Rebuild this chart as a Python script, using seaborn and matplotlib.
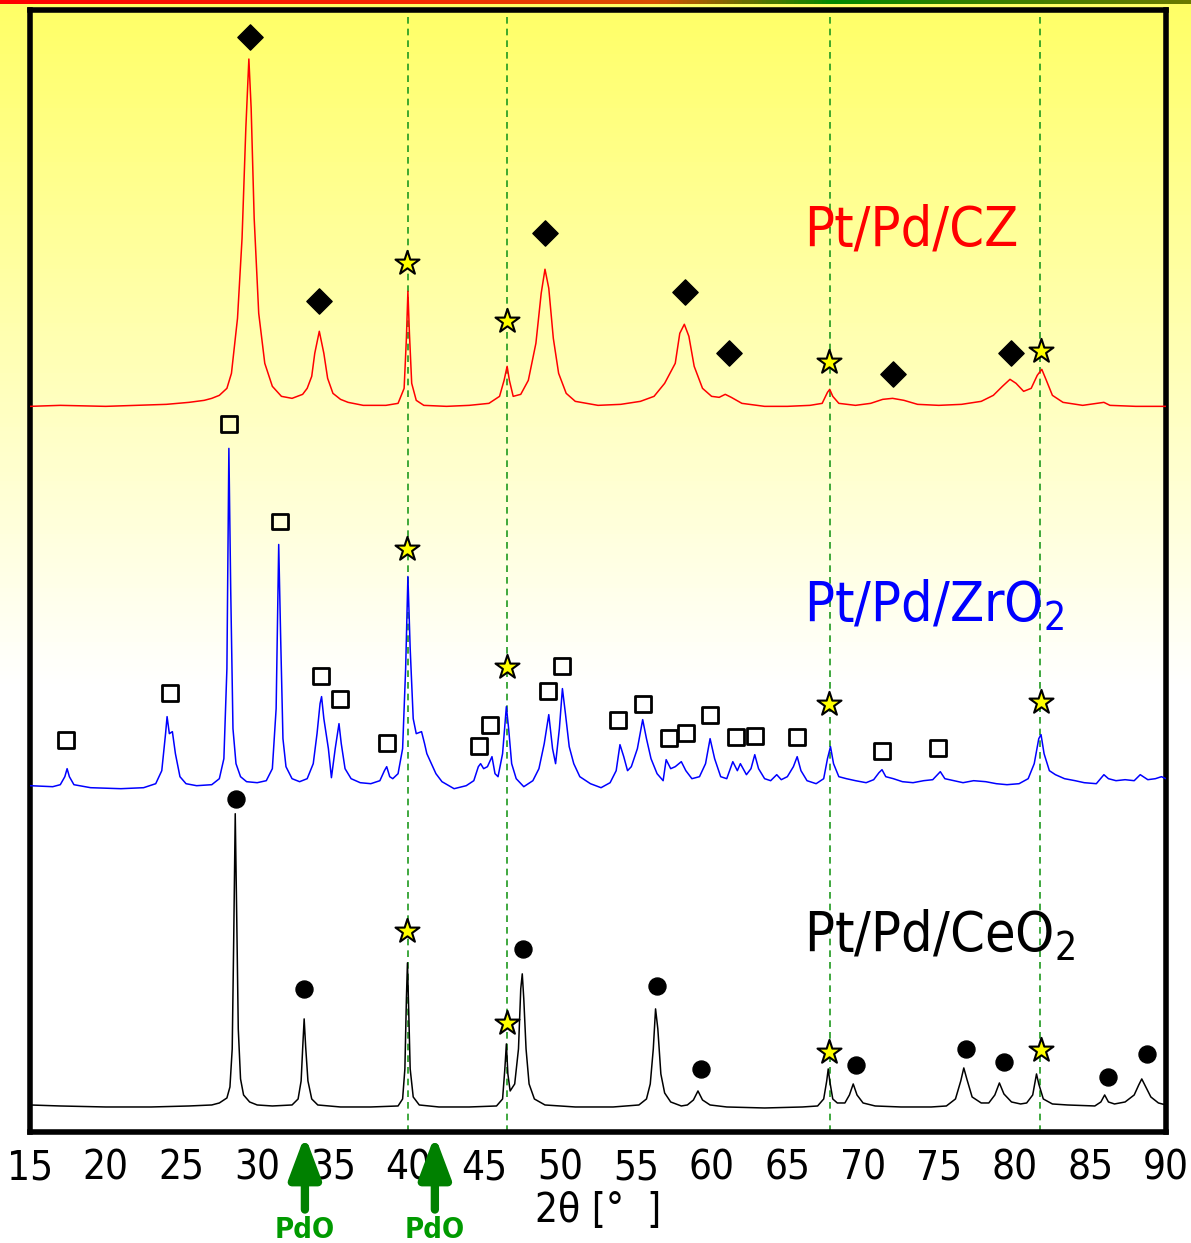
import numpy as np
import pandas as pd
import seaborn as sns
import matplotlib.pyplot as plt
from matplotlib import font_manager
from matplotlib.colors import LinearSegmentedColormap

# ---------------- data ----------------
# intensities are heights above each pattern's baseline (arbitrary units)

ceo2_2theta = [15.0, 17.0, 20.0, 23.0, 25.5, 27.0, 27.5, 28.0, 28.2, 28.35, 28.45, 28.55, 28.65, 28.75, 28.9,
               29.1, 29.5, 30.0, 31.0, 32.3, 32.7, 32.9, 33.0, 33.1, 33.2, 33.35, 33.6, 34.0, 35.5, 37.5,
               39.3, 39.6, 39.75, 39.85, 39.92, 40.0, 40.1, 40.3, 40.7, 42.0, 44.0, 45.8, 46.2, 46.35, 46.45,
               46.55, 46.7, 47.0, 47.25, 47.4, 47.5, 47.6, 47.75, 47.95, 48.3, 49.0, 51.0, 53.5, 55.2, 55.7,
               55.95, 56.15, 56.3, 56.45, 56.65, 56.9, 57.3, 58.0, 58.4, 58.8, 59.1, 59.4, 59.9, 61.0, 63.5,
               66.0, 67.0, 67.4, 67.6, 67.7, 67.8, 68.0, 68.3, 68.8, 69.1, 69.35, 69.6, 70.0, 70.8, 72.5,
               74.5, 75.5, 76.1, 76.45, 76.65, 76.85, 77.2, 77.8, 78.3, 78.7, 79.0, 79.3, 79.8, 80.4, 80.8,
               81.2, 81.45, 81.6, 81.9, 82.5, 83.5, 85.3, 85.7, 85.95, 86.2, 86.6, 87.3, 87.9, 88.2, 88.4,
               88.6, 89.0, 89.5, 90.0]
ceo2_counts = [4, 3, 2, 2, 3, 4, 6, 11, 22, 60, 170, 295, 190, 80, 30,
               14, 7, 4, 3, 4, 10, 28, 60, 90, 62, 28, 10, 4, 2, 2,
               3, 10, 40, 110, 146, 100, 40, 12, 4, 2, 2, 3, 10, 40, 65,
               35, 18, 25, 60, 120, 135, 110, 60, 25, 10, 4, 2, 2, 4, 10,
               25, 60, 100, 80, 35, 16, 7, 3, 4, 9, 18, 9, 4, 2, 1,
               2, 3, 10, 28, 40, 28, 10, 6, 6, 14, 25, 14, 6, 3, 2,
               2, 3, 10, 28, 41, 30, 12, 6, 6, 14, 26, 15, 7, 5, 6,
               14, 35, 25, 10, 5, 4, 3, 7, 14, 7, 5, 7, 14, 24, 30,
               24, 12, 6, 4]

zro2_2theta = [15.0, 16.5, 17.0, 17.3, 17.45, 17.6, 17.9, 19.0, 21.0, 22.5, 23.3, 23.7, 23.95, 24.05, 24.2,
               24.4, 24.6, 24.9, 25.3, 26.0, 27.0, 27.5, 27.8, 28.0, 28.13, 28.25, 28.4, 28.6, 28.9, 29.3,
               30.0, 30.6, 31.0, 31.25, 31.42, 31.55, 31.7, 31.9, 32.3, 32.8, 33.3, 33.7, 33.95, 34.15, 34.25,
               34.4, 34.7, 34.9, 35.15, 35.4, 35.55, 35.8, 36.2, 36.8, 37.5, 38.1, 38.4, 38.55, 38.75, 38.95,
               39.3, 39.6, 39.8, 39.95, 40.1, 40.3, 40.5, 40.85, 41.05, 41.2, 41.5, 41.8, 42.2, 43.0, 43.8,
               44.3, 44.6, 44.75, 44.95, 45.2, 45.5, 45.7, 45.9, 46.2, 46.45, 46.6, 46.8, 47.1, 47.6, 48.2,
               48.6, 48.95, 49.25, 49.5, 49.7, 49.95, 50.15, 50.35, 50.6, 50.9, 51.3, 52.0, 52.7, 53.3, 53.7,
               53.95, 54.2, 54.45, 54.7, 55.1, 55.45, 55.7, 56.0, 56.4, 56.8, 57.0, 57.3, 57.6, 58.0, 58.3,
               58.7, 59.2, 59.6, 59.9, 60.2, 60.6, 61.0, 61.4, 61.7, 61.9, 62.3, 62.6, 62.85, 63.1, 63.5,
               63.9, 64.3, 64.6, 65.0, 65.4, 65.65, 65.9, 66.3, 66.9, 67.4, 67.65, 67.85, 68.05, 68.4, 68.9,
               69.5, 70.2, 70.7, 71.05, 71.25, 71.5, 72.0, 72.6, 73.3, 74.0, 74.6, 75.1, 75.4, 76.0, 76.6,
               77.3, 78.1, 78.8, 79.5, 80.3, 80.9, 81.3, 81.6, 81.75, 81.95, 82.3, 82.7, 83.3, 84.0, 84.6,
               85.4, 85.9, 86.2, 86.7, 87.3, 87.9, 88.3, 88.8, 89.3, 89.7, 90.0]
zro2_counts = [3, 2, 4, 12, 20, 12, 4, 1, 0, 1, 5, 18, 55, 72, 55,
               57, 35, 12, 5, 3, 4, 10, 30, 120, 340, 200, 60, 25, 12, 7,
               6, 8, 20, 80, 244, 150, 50, 22, 10, 7, 10, 25, 55, 85, 92,
               70, 40, 11, 40, 65, 45, 20, 10, 6, 5, 8, 18, 22, 12, 10,
               15, 40, 120, 212, 140, 70, 55, 57, 45, 35, 25, 15, 7, 0, 3,
               8, 22, 25, 20, 22, 32, 15, 12, 35, 82, 60, 25, 10, 2, 8,
               20, 45, 74, 40, 25, 60, 100, 75, 42, 25, 12, 5, 1, 6, 18,
               44, 32, 18, 22, 40, 69, 50, 30, 15, 8, 29, 20, 22, 27, 18,
               10, 12, 25, 50, 30, 12, 10, 27, 18, 25, 14, 20, 34, 20, 10,
               8, 14, 9, 12, 22, 32, 18, 8, 5, 10, 30, 42, 25, 12, 10,
               8, 6, 9, 16, 19, 12, 10, 7, 6, 8, 9, 17, 10, 8, 6,
               8, 7, 5, 4, 5, 10, 25, 50, 54, 35, 18, 14, 10, 8, 6,
               5, 14, 10, 8, 9, 8, 14, 9, 10, 12, 10]

cz_2theta = [15.0, 17.0, 20.0, 22.0, 24.0, 25.5, 26.5, 27.0, 27.5, 28.0, 28.3, 28.7, 29.0, 29.25, 29.45,
             29.6, 29.8, 30.1, 30.5, 31.0, 31.6, 32.3, 33.0, 33.3, 33.6, 33.8, 34.1, 34.4, 34.65, 35.0,
             35.5, 36.0, 37.0, 38.5, 39.3, 39.7, 39.85, 39.95, 40.05, 40.2, 40.5, 41.0, 42.5, 44.0, 45.3,
             46.0, 46.3, 46.5, 46.65, 46.9, 47.4, 47.9, 48.4, 48.75, 49.0, 49.25, 49.55, 49.9, 50.4, 51.0,
             52.5, 54.0, 55.3, 56.2, 56.9, 57.6, 57.9, 58.2, 58.5, 58.85, 59.4, 60.0, 60.5, 60.9, 61.3,
             62.0, 63.5, 65.0, 66.5, 67.3, 67.65, 67.8, 68.0, 68.4, 69.5, 70.5, 71.3, 71.95, 72.7, 73.6,
             75.0, 76.5, 77.8, 78.6, 79.2, 79.7, 80.1, 80.6, 81.1, 81.5, 81.8, 82.1, 82.5, 83.2, 84.5,
             85.9, 86.3, 88.0, 90.0]
cz_counts = [2, 3, 2, 3, 4, 6, 8, 10, 13, 20, 35, 90, 170, 280, 349,
             300, 190, 95, 45, 22, 12, 10, 14, 20, 32, 55, 77, 55, 30, 15,
             9, 6, 3, 3, 5, 20, 70, 117, 75, 25, 8, 3, 2, 3, 5,
             12, 28, 42, 28, 12, 14, 28, 65, 115, 139, 120, 70, 35, 15, 7,
             3, 4, 7, 12, 25, 45, 75, 84, 72, 42, 20, 12, 11, 14, 11,
             5, 2, 2, 3, 5, 16, 19, 12, 5, 3, 5, 9, 10, 8, 4,
             3, 4, 7, 13, 22, 29, 25, 17, 20, 33, 39, 28, 13, 6, 3,
             6, 3, 2, 2]

samples = ["Pt/Pd/CeO2", "Pt/Pd/ZrO2", "Pt/Pd/CZ"]
offsets = [23, 343, 723]
colors = ["black", "#0000ff", "#ff0000"]

# reflection markers (2theta, height on plot)
cz_diamond_x = [29.52, 34.08, 48.99, 58.23, 61.14, 71.96, 79.75]
cz_diamond_y = [1094, 830, 898, 839, 778, 757, 778]
zro2_square_x = [17.38, 24.24, 28.14, 31.5, 34.21, 35.46, 38.56, 44.64, 45.36, 49.19, 50.12,
                 53.81, 55.46, 57.18, 58.3, 59.88, 61.6, 62.85, 65.63, 71.24, 74.93]
zro2_square_y = [392, 439, 707, 610, 456, 433, 389, 386, 407, 441, 466,
                 412, 428, 394, 399, 417, 395, 396, 395, 381, 384]
ceo2_circle_x = [28.6, 33.09, 47.54, 56.39, 59.29, 69.52, 76.78, 79.29, 86.16, 88.73]
ceo2_circle_y = [333, 143, 183, 146, 63, 67, 83, 70, 55, 78]
pt_x = [39.88, 46.49, 67.74, 81.73] * 3
pt_y = [868, 810, 769, 780, 582, 465, 428, 430, 201, 109, 80, 82]

pt_lines = [39.95, 46.5, 67.8, 81.7]
pdo_x = [33.15, 41.73]

# ---------------- style ----------------
sns.set_style("white")
installed = {f.name for f in font_manager.fontManager.ttflist}
narrow = [n for n in ["Liberation Sans Narrow", "DejaVu Sans Condensed"] if n in installed]
plt.rcParams["font.family"] = narrow + ["DejaVu Sans"]
plt.rcParams["font.stretch"] = "condensed"
plt.rcParams["mathtext.fontset"] = "custom"
plt.rcParams["mathtext.rm"] = (narrow + ["DejaVu Sans"])[0] + ":stretch=condensed"
plt.rcParams["mathtext.default"] = "rm"
plt.rcParams["text.color"] = "black"
plt.rcParams["xtick.color"] = "black"
plt.rcParams["axes.labelcolor"] = "black"

fig = plt.figure(figsize=(11.91, 12.43), dpi=100)

# background: yellow fading to white, thin coloured strip on top
bg = fig.add_axes([0, 0, 1, 1], zorder=-10)
grad = np.linspace(1, 0, 300).reshape(-1, 1)
bg_cmap = LinearSegmentedColormap.from_list("bg", [(0, "white"), (0.45, "white"), (1, "#ffff66")])
bg.imshow(grad, aspect="auto", cmap=bg_cmap, extent=[0, 1, 0, 1], origin="upper")
bg.set_axis_off()
strip = fig.add_axes([0, 1 - 4 / 1243, 1, 4 / 1243], zorder=-9)
strip_cmap = LinearSegmentedColormap.from_list(
    "strip", [(0, "#ff0000"), (0.35, "#f52a00"), (0.55, "#d85000"), (0.7, "#008a00"),
              (0.8, "#2d8000"), (1, "#6a7a00")])
strip.imshow(np.linspace(0, 1, 300).reshape(1, -1), aspect="auto", cmap=strip_cmap)
strip.set_axis_off()

ax = fig.add_axes([30 / 1191, 111 / 1243, 1136 / 1191, 1122 / 1243])
ax.set_facecolor("none")

# ---------------- patterns ----------------
frames = []
for name, xs, ys, off in zip(samples,
                             [ceo2_2theta, zro2_2theta, cz_2theta],
                             [ceo2_counts, zro2_counts, cz_counts], offsets):
    frames.append(pd.DataFrame({"two_theta": xs,
                                "intensity": np.array(ys) + off,
                                "sample": name}))
df = pd.concat(frames, ignore_index=True)

sns.lineplot(data=df, x="two_theta", y="intensity", hue="sample",
             palette=dict(zip(samples, colors)), estimator=None,
             linewidth=1.1, legend=False, ax=ax, zorder=3)

for x in pt_lines:
    ax.axvline(x, color="#1f9a1f", linestyle=(0, (4, 3)), linewidth=1.2, zorder=2)

# markers
sns.scatterplot(x=cz_diamond_x, y=cz_diamond_y, marker="D", s=165, color="black",
                edgecolor="black", ax=ax, zorder=5)
sns.scatterplot(x=zro2_square_x, y=zro2_square_y, marker="s", s=130, facecolor="none",
                edgecolor="black", linewidth=2, ax=ax, zorder=5)
sns.scatterplot(x=ceo2_circle_x, y=ceo2_circle_y, marker="o", s=150, color="black",
                edgecolor="black", ax=ax, zorder=5)
sns.scatterplot(x=pt_x, y=pt_y, marker="*", s=330, color="#ffff00",
                edgecolor="black", linewidth=1.5, ax=ax, zorder=6)

# sample labels
ax.text(66.1, 901, "Pt/Pd/CZ", color="#ff0000", fontsize=40, va="center", ha="left")
ax.text(66.1, 526, "Pt/Pd/ZrO$_2$", color="#0000ff", fontsize=40, va="center", ha="left")
ax.text(66.1, 196, "Pt/Pd/CeO$_2$", color="black", fontsize=40, va="center", ha="left")

# PdO arrows under the axis
for x in pdo_x:
    ax.annotate("PdO", xy=(x, -0.003), xycoords=("data", "axes fraction"),
                xytext=(x, -0.087), textcoords=("data", "axes fraction"),
                ha="center", va="center", color="#009a00", fontsize=21, fontweight="bold",
                annotation_clip=False,
                arrowprops=dict(arrowstyle="-|>,head_width=0.45,head_length=1.2",
                                color="#008000", lw=6, shrinkA=2, shrinkB=0))

# ---------------- axes ----------------
ax.set_xlim(15, 90)
ax.set_ylim(0, 1121)
ax.set_xticks(np.arange(15, 91, 5))
ax.set_yticks([])
ax.tick_params(axis="x", direction="in", length=8, width=3.5, labelsize=29, pad=12,
               color="black", labelcolor="black")
ax.set_xlabel("2θ [°  ]", fontsize=29, labelpad=2)
ax.set_ylabel("")
for sp in ax.spines.values():
    sp.set_visible(True)
    sp.set_color("black")
    sp.set_linewidth(4)

fig.savefig("out.png", dpi=100)
